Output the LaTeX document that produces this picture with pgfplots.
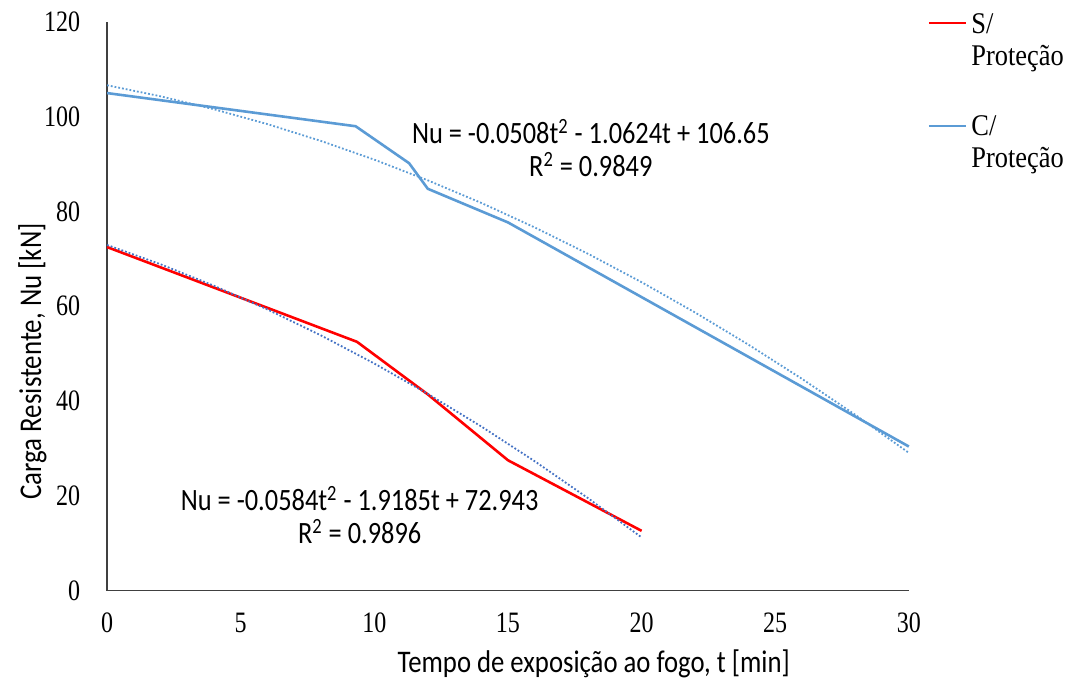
\documentclass[border=0pt]{standalone}
\usepackage{fontspec}
\setmainfont{Liberation Serif}[FakeStretch=0.81]
\newfontfamily\carlito{Carlito}[FakeStretch=0.85]
\newfontfamily\lserif{Liberation Serif}[FakeStretch=0.81]
\newfontfamily\legserif{Liberation Serif}[FakeStretch=0.88]
\usepackage{pgfplots}
\pgfplotsset{compat=1.18}
\definecolor{cred}{RGB}{255,0,0}
\definecolor{cblue}{RGB}{91,155,213}
\definecolor{tblue}{RGB}{68,114,196}
\definecolor{axgray}{RGB}{64,64,64}
\begin{document}
\begin{tikzpicture}
\path[use as bounding box] (-53.5pt,-44pt) rectangle (480.5pt,295pt);
\begin{axis}[
  at={(0pt,0pt)}, anchor=origin,
  scale only axis,
  width=400.5pt, height=284pt,
  xmin=0, xmax=30, ymin=0, ymax=120,
  axis lines*=left,
  axis line style={axgray, line width=0.9pt, -},
  xtick={0,5,...,30}, ytick={0,20,...,120},
  major tick length=0pt,
  tick label style={font=\lserif\fontsize{14.8}{17}\selectfont},
  /pgf/number format/assume math mode=true,
  xticklabel style={yshift=-7.5pt},
  yticklabel style={xshift=-10pt},
  xlabel={\carlito\fontsize{15.7}{18}\selectfont Tempo de exposição ao fogo, t [min]},
  ylabel={\carlito\fontsize{15.8}{18}\selectfont Carga Resistente, Nu [kN]},
  xlabel style={at={(axis description cs:0.607,0)}, anchor=base, yshift=-41pt},
  ylabel style={at={(axis description cs:0,0.403)}, anchor=base, yshift=33pt},
  clip=false,
]
\addplot[cred, line width=1.3pt] coordinates {
 (0,72.5) (9.35,52.5) (12,41.4) (15,27.5) (20,12.6)};
\addplot[cblue, line width=1.3pt] coordinates {
 (0,105) (9.3,98) (11.3,90.2) (12,84.8) (15,77.7) (30,30.4)};
\addplot[tblue, densely dotted, line width=0.9pt] coordinates {
 (0,72.943) (2,68.872) (4,64.335) (6,59.330) (8,53.857) (10,47.918)
 (12,41.511) (14,34.638) (16,27.297) (18,19.488) (20,11.213)};
\addplot[cblue, densely dotted, line width=0.9pt] coordinates {
 (0,106.65) (2,104.322) (4,101.588) (6,98.447) (8,94.900) (10,90.946)
 (12,86.586) (14,81.820) (16,76.647) (18,71.068) (20,65.082) (22,58.690)
 (24,51.892) (26,44.687) (28,37.076) (30,29.058)};
\node[align=center, font=\carlito\fontsize{15.5}{16.5}\selectfont] at (axis cs:18.1,93.4)
 {Nu = -0.0508t\textsuperscript{2} - 1.0624t + 106.65\\R\textsuperscript{2} = 0.9849};
\node[align=center, font=\carlito\fontsize{15.5}{16.5}\selectfont] at (axis cs:9.45,15.9)
 {Nu = -0.0584t\textsuperscript{2} - 1.9185t + 72.943\\R\textsuperscript{2} = 0.9896};
% legend
\draw[cred, line width=1.3pt] (rel axis cs:1.025,0.998) -- (rel axis cs:1.071,0.998);
\node[anchor=base west, inner sep=0pt, font=\legserif\fontsize{15}{16}\selectfont] at (rel axis cs:1.0775,0.9806) {S/};
\node[anchor=base west, inner sep=0pt, font=\legserif\fontsize{15}{16}\selectfont] at (rel axis cs:1.0775,0.9243) {Proteção};
\draw[cblue, line width=1.3pt] (rel axis cs:1.025,0.817) -- (rel axis cs:1.071,0.817);
\node[anchor=base west, inner sep=0pt, font=\legserif\fontsize{15}{16}\selectfont] at (rel axis cs:1.0775,0.801) {C/};
\node[anchor=base west, inner sep=0pt, font=\legserif\fontsize{15}{16}\selectfont] at (rel axis cs:1.0775,0.7447) {Proteção};
\end{axis}
\end{tikzpicture}
\end{document}
